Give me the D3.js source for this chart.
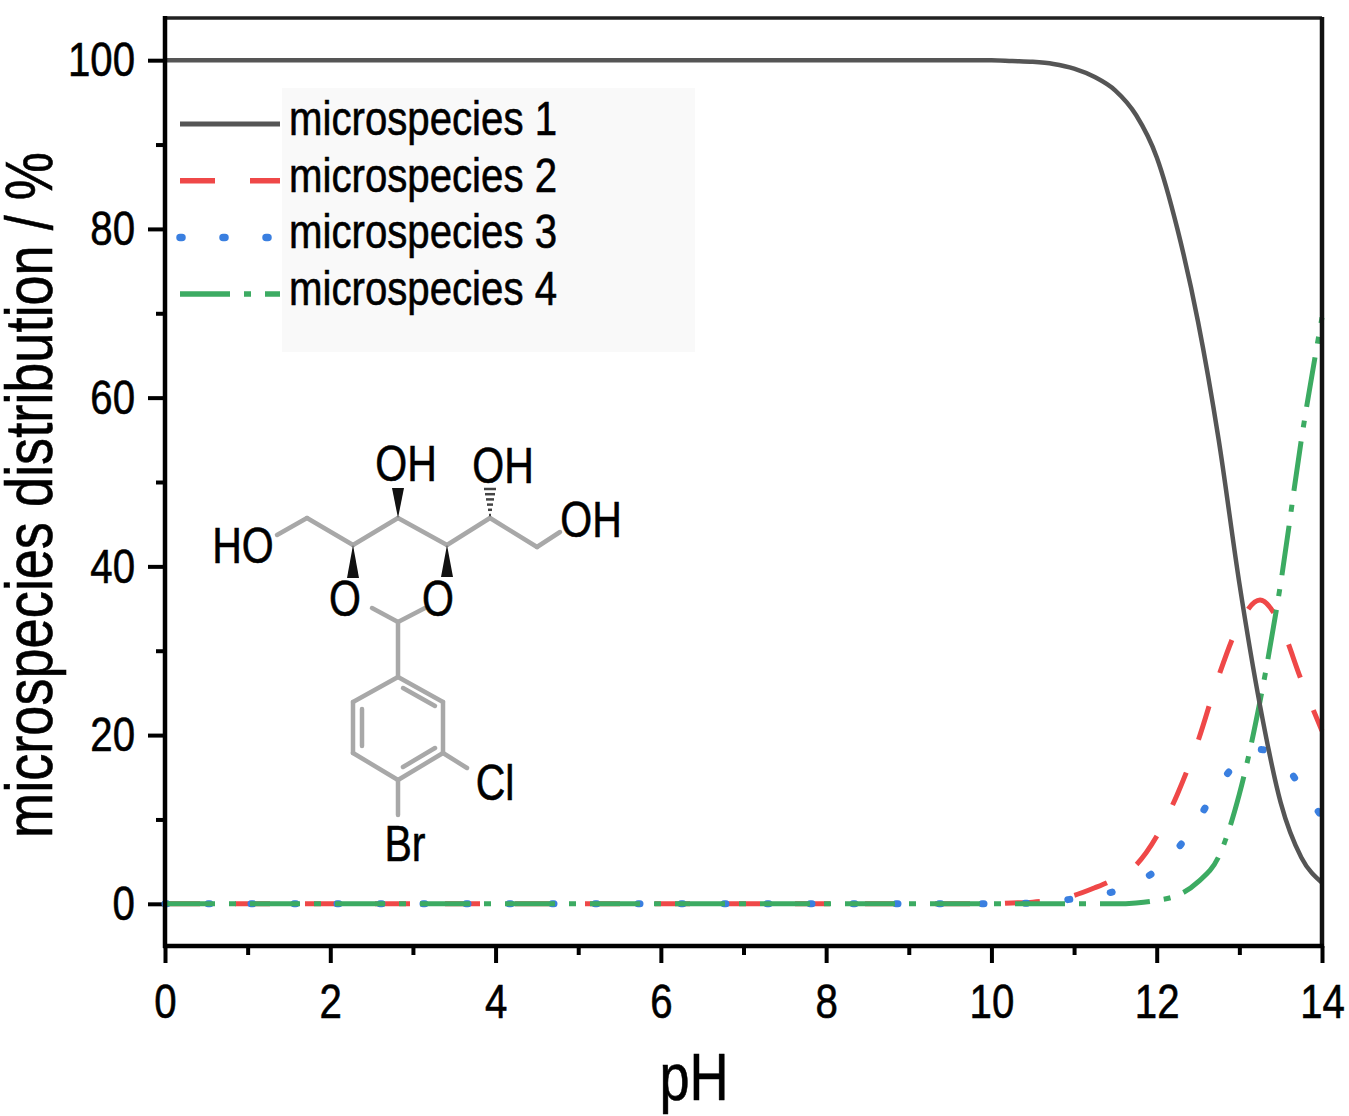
<!DOCTYPE html>
<html>
<head>
<meta charset="utf-8">
<script src="https://cdn.jsdelivr.net/npm/d3@7"></script>
<style>
  html,body{margin:0;padding:0;background:#fff;}
  svg{display:block;}
  text{font-family:"Liberation Sans Narrow","Arial Narrow","Liberation Sans",Arial,sans-serif;fill:#000;stroke:#000;stroke-width:0.6px;}
</style>
</head>
<body>
<svg id="chart" width="1349" height="1116"></svg>
<script>
// ---------- data ----------
const pH = [0, 2, 4, 6, 8, 10, 10.25, 10.5, 10.75, 11, 11.25, 11.5, 11.75, 12, 12.25, 12.5, 12.75, 13, 13.25, 13.5, 13.75, 14];
const species1 = [100, 100, 100, 100, 100, 100, 99.9, 99.8, 99.55, 99.0, 98.0, 96.4, 93.5, 88.5, 80, 69, 55, 38, 23.5, 12, 5.5, 2.5];
const species2 = [0, 0, 0, 0, 0, 0, 0.1, 0.2, 0.5, 1.0, 1.9, 3.0, 4.6, 8.0, 13, 19.3, 27, 33.2, 36, 33, 26.5, 20.5];
const species3 = [0, 0, 0, 0, 0, 0, 0.05, 0.1, 0.3, 0.6, 1.0, 1.5, 2.5, 4.0, 6.5, 10, 14, 17, 18.3, 17, 13.8, 10.3];
const species4 = [0, 0, 0, 0, 0, 0, 0, 0, 0, 0, 0, 0, 0.1, 0.4, 1.0, 2.6, 5.6, 13, 24, 38, 55, 69.5];
const seriesNames = ["microspecies 1", "microspecies 2", "microspecies 3", "microspecies 4"];
const xMajorTicks = [0, 2, 4, 6, 8, 10, 12, 14];
const xMinorTicks = [1, 3, 5, 7, 9, 11, 13];
const yMajorTicks = [0, 20, 40, 60, 80, 100];
const yMinorTicks = [10, 30, 50, 70, 90];
const xTitle = "pH";
const yTitle = "microspecies distribution / %";

// ---------- styles ----------
const styles = [
  {color: "#555555", width: 4.5, dash: null, cap: "butt"},
  {color: "#ef4848", width: 5, dash: "35,35", cap: "butt"},
  {color: "#3a7fe0", width: 7, dash: "2,41", cap: "round"},
  {color: "#3cab62", width: 5, dash: "50,14,7,14", cap: "butt"}
];
const seriesValues = [species1, species2, species3, species4];

const svg = d3.select("#chart");
const x = d3.scaleLinear().domain([0, 14]).range([165, 1322]);
const y = d3.scaleLinear().domain([-5, 105]).range([946, 18]);

// legend background (faint)
svg.append("rect").attr("x", 282).attr("y", 88).attr("width", 413).attr("height", 264).attr("fill", "#f9f9f9");

// ---------- structure inset ----------
const mol = svg.append("g").attr("transform", "translate(398,622)");
const grayBonds = [
  [[-121,-87],[-91,-104]], [[-91,-104],[-45,-77]], [[-45,-77],[0,-104]], [[0,-104],[49,-77]],
  [[49,-77],[92,-104]], [[92,-104],[139,-75]], [[139,-75],[162,-90]],
  [[-26,-14],[0,0]], [[27,-14],[0,0]], [[0,0],[0,55]],
  [[0,55],[45,80]], [[45,80],[45,131]], [[45,131],[0,158]], [[0,158],[-45,131]], [[-45,131],[-45,80]], [[-45,80],[0,55]],
  [[-36,87],[-36,124]], [[5,66],[37,84]], [[37,126],[5,145]],
  [[45,131],[69,146]], [[0,158],[0,193]]
];
mol.selectAll("line.bond").data(grayBonds).join("line").attr("class","bond")
  .attr("x1", d => d[0][0]).attr("y1", d => d[0][1]).attr("x2", d => d[1][0]).attr("y2", d => d[1][1])
  .attr("stroke", "#a8a8a8").attr("stroke-width", 4.5).attr("stroke-linecap", "round");
// solid wedges
const wedges = [ [[0,-104],[0,-134]], [[-45,-77],[-45,-44]], [[49,-77],[49,-45]] ];
wedges.forEach(w => {
  const [a, b] = w;
  mol.append("path").attr("d", `M${a[0]},${a[1]} L${b[0]-6},${b[1]} L${b[0]+6},${b[1]} Z`).attr("fill", "#111");
});
// hashed wedge
for (let i = 0; i < 6; i++) {
  const t = i / 5, yy = -107 - t * 26, hw = 1 + t * 5;
  mol.append("line").attr("x1", 92 - hw).attr("x2", 92 + hw).attr("y1", yy).attr("y2", yy)
    .attr("stroke", "#444").attr("stroke-width", 2.5);
}
const atomLabels = [
  {t: "HO", x: -155, y: -77}, {t: "OH", x: 8, y: -159}, {t: "OH", x: 105, y: -157}, {t: "OH", x: 193, y: -103},
  {t: "O", x: -53, y: -24}, {t: "O", x: 40, y: -24}, {t: "Cl", x: 97, y: 160}, {t: "Br", x: 7, y: 221}
];
mol.selectAll("text.atom").data(atomLabels).join("text").attr("class","atom")
  .attr("x", d => d.x).attr("y", d => d.y + 18).attr("text-anchor", "middle")
  .attr("font-size", 50).text(d => d.t);

// ---------- axes ----------
function styleAxis(g) {
  g.select(".domain").remove();
  g.selectAll(".tick line").attr("stroke", "#000").attr("stroke-width", 4);
  g.selectAll(".tick text").attr("font-size", 49).attr("fill", "#000")
    .attr("font-family", '"Liberation Sans Narrow","Arial Narrow","Liberation Sans",Arial,sans-serif');
}
svg.append("g").attr("transform", "translate(0,946)")
  .call(d3.axisBottom(x).tickValues(xMajorTicks).tickSize(17).tickPadding(20).tickFormat(d3.format("d"))).call(styleAxis);
svg.append("g").attr("transform", "translate(0,946)")
  .call(d3.axisBottom(x).tickValues(xMinorTicks).tickSize(9).tickFormat("")).call(styleAxis);
svg.append("g").attr("transform", "translate(165,0)")
  .call(d3.axisLeft(y).tickValues(yMajorTicks).tickSize(17).tickPadding(13).tickFormat(d3.format("d"))).call(styleAxis);
svg.append("g").attr("transform", "translate(165,0)")
  .call(d3.axisLeft(y).tickValues(yMinorTicks).tickSize(9).tickFormat("")).call(styleAxis);

// ---------- curves ----------
const line = d3.line().x(d => x(d[0])).y(d => y(d[1])).curve(d3.curveMonotoneX);
const drawOrder = [1, 2, 3, 0];
drawOrder.forEach(i => {
  const s = styles[i];
  svg.append("path").datum(pH.map((p, k) => [p, seriesValues[i][k]]))
    .attr("d", line).attr("fill", "none").attr("stroke", s.color).attr("stroke-width", s.width)
    .attr("stroke-dasharray", s.dash).attr("stroke-linecap", s.cap).attr("stroke-linejoin", "round");
});

// frame
svg.append("line").attr("x1", x(0)).attr("x2", x(14)).attr("y1", 18).attr("y2", 18).attr("stroke", "#222").attr("stroke-width", 3.5);
svg.append("line").attr("x1", x(14)).attr("x2", x(14)).attr("y1", 17).attr("y2", 948).attr("stroke", "#111").attr("stroke-width", 4.5);
svg.append("line").attr("x1", x(0)).attr("x2", x(0)).attr("y1", 16).attr("y2", 948).attr("stroke", "#000").attr("stroke-width", 4.5);
svg.append("line").attr("x1", x(0) - 2).attr("x2", x(14) + 2).attr("y1", 946).attr("y2", 946).attr("stroke", "#000").attr("stroke-width", 4.5);

// ---------- legend ----------
const leg = svg.append("g");
seriesNames.forEach((name, i) => {
  const base = 135 + i * 56.7;
  const s = styles[i];
  leg.append("line").attr("x1", 180).attr("x2", 280).attr("y1", base - 11).attr("y2", base - 11)
    .attr("stroke", s.color).attr("stroke-width", s.width + 0.5).attr("stroke-dasharray", s.dash).attr("stroke-linecap", s.cap);
  leg.append("text").attr("x", 289).attr("y", base).attr("font-size", 49).text(name);
});

// ---------- titles ----------
svg.append("text").attr("x", 694).attr("y", 1100).attr("text-anchor", "middle").attr("font-size", 66).text(xTitle);
svg.append("text").attr("transform", "translate(52,495) rotate(-90)").attr("text-anchor", "middle").attr("font-size", 66).text(yTitle);

// condense all text (narrow face look) when no narrow font is installed
svg.selectAll("text").each(function() {
  const w = this.getComputedTextLength();
  if (w > 0) d3.select(this).attr("textLength", (w * 0.82).toFixed(1)).attr("lengthAdjust", "spacingAndGlyphs");
});
</script>
</body>
</html>
